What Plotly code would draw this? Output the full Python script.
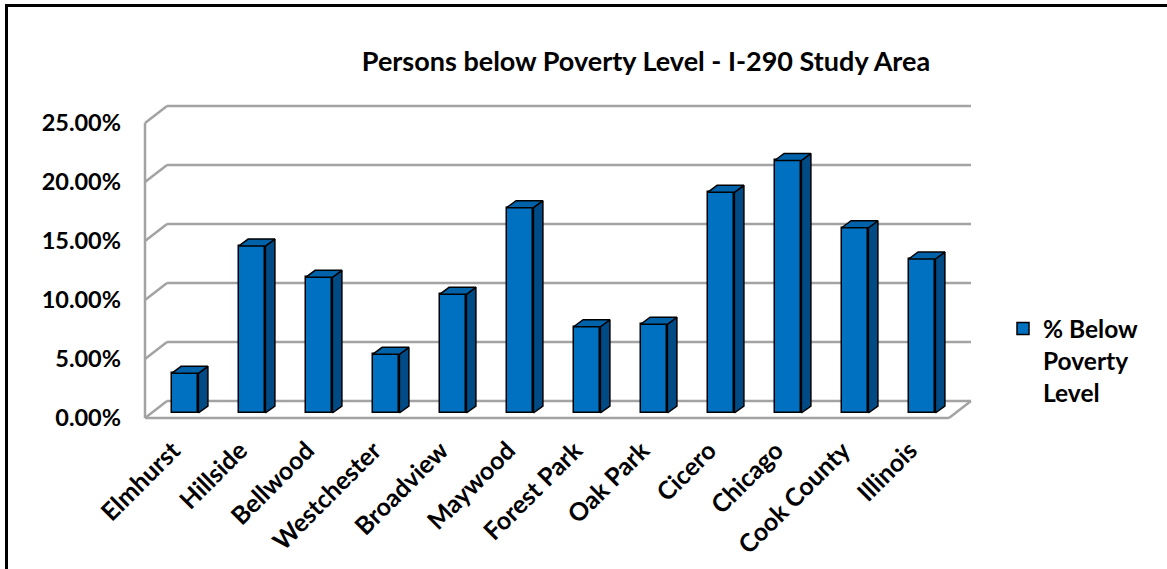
import plotly.graph_objects as go

# ---------------- data ----------------
categories = ["Elmhurst", "Hillside", "Bellwood", "Westchester", "Broadview", "Maywood",
              "Forest Park", "Oak Park", "Cicero", "Chicago", "Cook County", "Illinois"]
pct_below_poverty = [0.0336, 0.1415, 0.1150, 0.0497, 0.1006, 0.1740,
                     0.0731, 0.0752, 0.1870, 0.2140, 0.1570, 0.1305]
y_ticks = [0.0, 0.05, 0.10, 0.15, 0.20, 0.25]
y_tick_labels = ["0.00%", "5.00%", "10.00%", "15.00%", "20.00%", "25.00%"]
series_name = "% Below<br>Poverty<br>Level"
title_text = "Persons below Poverty Level - I-290 Study Area"

# ---------------- layout geometry (pixels) ----------------
W, H = 1167, 569
L, R, T, B = 140, 990, 90, 430          # plot area
X0_PX, X_STEP = 185, 67                  # first category centre, spacing
Y0_PX, Y_UNIT = 413, 1180                # bar-plane baseline, px per 1.0 (100%)

def px_to_x(px):
    return (px - X0_PX) / X_STEP

def px_to_y(py):
    return (Y0_PX - py) / Y_UNIT

# depth offsets (data units)
dxb, dyb = 9.5 / X_STEP, 7 / Y_UNIT       # bar depth
dxw, dyw = 15.5 / X_STEP, 12 / Y_UNIT     # back wall relative to bar plane
dxf, dyf = -6.5 / X_STEP, -5 / Y_UNIT     # front floor edge relative to bar plane

n = len(categories)
xs = list(range(n))
bw = 0.4
xl, xr = -0.5, n - 0.5
ymax = y_ticks[-1]

FRONT = "#0070C0"
SIDE = "#004A86"
TOP = "#0063AA"
GRID = "#A3A3A3"

fig = go.Figure()

# front faces
fig.add_trace(go.Bar(
    x=xs, y=pct_below_poverty, width=bw, name=series_name,
    marker=dict(color=FRONT, line=dict(color="black", width=1.5)),
    showlegend=True, hoverinfo="skip"))

# side faces & top faces
sx, sy, tx, ty = [], [], [], []
for i, v in zip(xs, pct_below_poverty):
    r = i + bw / 2
    l = i - bw / 2
    sx += [r, r + dxb, r + dxb, r, r, None]
    sy += [0, dyb, v + dyb, v, 0, None]
    tx += [l, r, r + dxb, l + dxb, l, None]
    ty += [v, v, v + dyb, v + dyb, v, None]
fig.add_trace(go.Scatter(x=sx, y=sy, mode="lines", fill="toself", fillcolor=SIDE,
                         line=dict(color="black", width=1.5), showlegend=False,
                         hoverinfo="skip"))
fig.add_trace(go.Scatter(x=tx, y=ty, mode="lines", fill="toself", fillcolor=TOP,
                         line=dict(color="black", width=1.5), showlegend=False,
                         hoverinfo="skip"))

# walls / gridlines / floor
shapes = []
def seg(x0, y0, x1, y1, width=2.5, color=GRID):
    shapes.append(dict(type="line", xref="x", yref="y", x0=x0, y0=y0, x1=x1, y1=y1,
                       line=dict(color=color, width=width), layer="below"))

for t in y_ticks:
    seg(xl + dxf, t + dyf, xl + dxw, t + dyw)          # left wall oblique
    seg(xl + dxw, t + dyw, xr + dxw, t + dyw)          # back wall horizontal
seg(xl + dxf, dyf, xl + dxf, ymax + dyf)               # left wall front edge
seg(xl + dxf, dyf, xr + dxf, dyf)                      # floor front edge
seg(xr + dxf, dyf, xr + dxw, dyw)                      # floor right edge

# outer frame
def pxp(px):
    return (px - L) / (R - L)
def pyp(py):
    return (B - py) / (B - T)
shapes.append(dict(type="rect", xref="paper", yref="paper",
                   x0=pxp(6.5), x1=pxp(1180), y0=pyp(5.5), y1=pyp(590),
                   line=dict(color="black", width=3), layer="above"))

FONT = "Lato"
fig.update_layout(
    width=W, height=H,
    margin=dict(l=L, r=W - R, t=T, b=H - B, pad=0, autoexpand=False),
    paper_bgcolor="white", plot_bgcolor="rgba(0,0,0,0)",
    shapes=shapes,
    title=dict(text=title_text, x=646 / W, xanchor="center", xref="container",
               y=1 - 62 / H, yanchor="middle", yref="container", automargin=False,
               font=dict(family=FONT, size=27, color="black", weight="bold")),
    xaxis=dict(range=[px_to_x(L), px_to_x(R)], tickvals=xs, ticktext=categories,
               tickangle=-45, showgrid=False, zeroline=False, showline=False,
               ticks="", tickfont=dict(family=FONT, size=25, color="black", weight="bold"),
               ticklabelstandoff=0, ticklabelshift=-12, fixedrange=True, automargin=False),
    yaxis=dict(range=[px_to_y(B), px_to_y(T)],
               tickvals=[t + dyf for t in y_ticks], ticktext=y_tick_labels,
               showgrid=False, zeroline=False, showline=False, ticks="",
               tickfont=dict(family=FONT, size=23.5, color="black", weight="bold"),
               ticklabelstandoff=18, fixedrange=True, automargin=False),
    legend=dict(x=pxp(1003), xanchor="left", y=pyp(306), yanchor="top",
                valign="top", font=dict(family=FONT, size=24.5, color="black", weight="bold"),
                bgcolor="rgba(0,0,0,0)", itemclick=False),
    showlegend=True,
    bargap=0,
)

fig.write_html("out.html")
